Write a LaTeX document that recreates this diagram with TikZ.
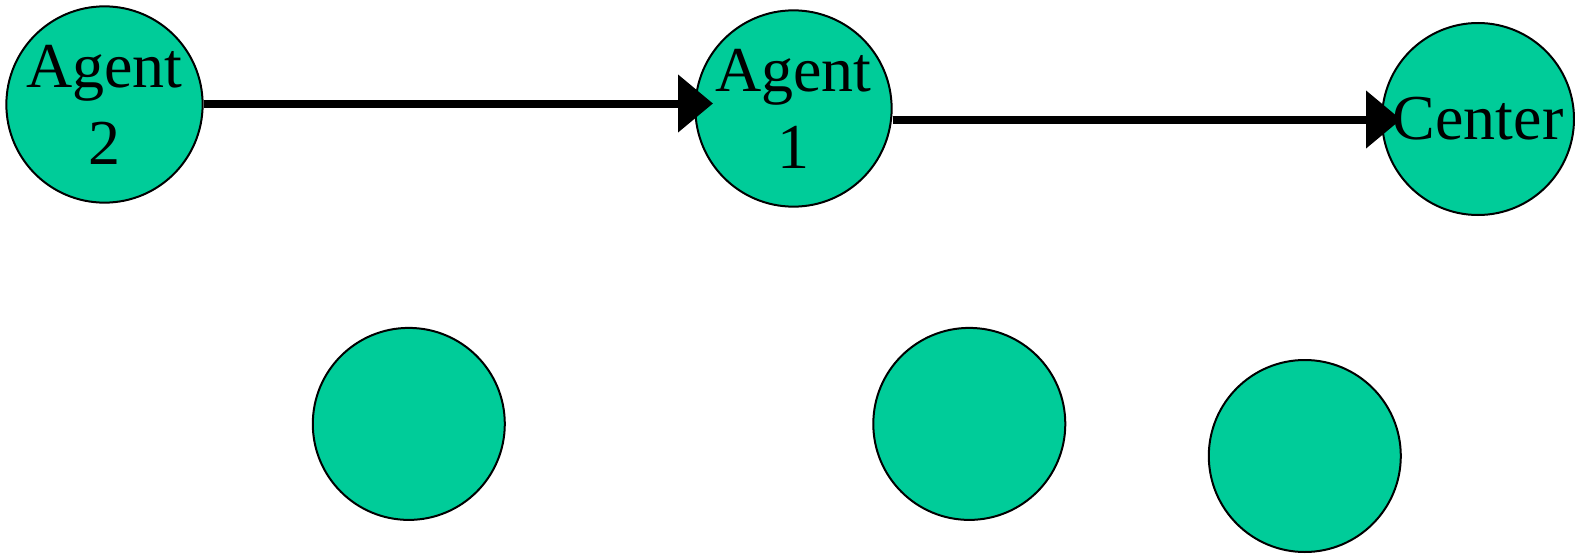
\documentclass[tikz,border=0pt]{standalone}
\usepackage{fontspec}
\setmainfont{Liberation Serif}
\usetikzlibrary{arrows.meta}
\definecolor{agentgreen}{HTML}{00CC99}
\tikzset{
  agent/.style={circle, draw=black, line width=2pt, fill=agentgreen,
    minimum size=192pt, inner sep=0pt, align=center,
    font=\fontsize{64}{77}\selectfont},
  link/.style={line width=8pt, -{Triangle[length=35pt,width=56pt]}}
}
\begin{document}
\begin{tikzpicture}[x=1pt,y=-1pt]
  \useasboundingbox (0,0) rectangle (1575,554);
  % upper row: labelled agents
  \node[agent] (a2) at (104.5,104.5) {Agent\\2};
  \node[agent] (a1) at (793.5,108.5) {Agent\\1};
  \node[agent] (ctr) at (1478,119) {Center};
  % lower row: unlabelled agents
  \node[agent] (b1) at (408.8,423.9) {};
  \node[agent] (b2) at (969.3,423.9) {};
  \node[agent] (b3) at (1304.8,456) {};
  % arrow end points, tips reaching into the next circle
  \coordinate (t1) at (713,103.5);
  \coordinate (s2) at (888,119.5);
  \coordinate (t2) at (1401,119.5);
  \draw[link] (a2.east |- t1) -- (t1);
  \draw[link] (a1.east |- s2) -- (t2);
\end{tikzpicture}
\end{document}
